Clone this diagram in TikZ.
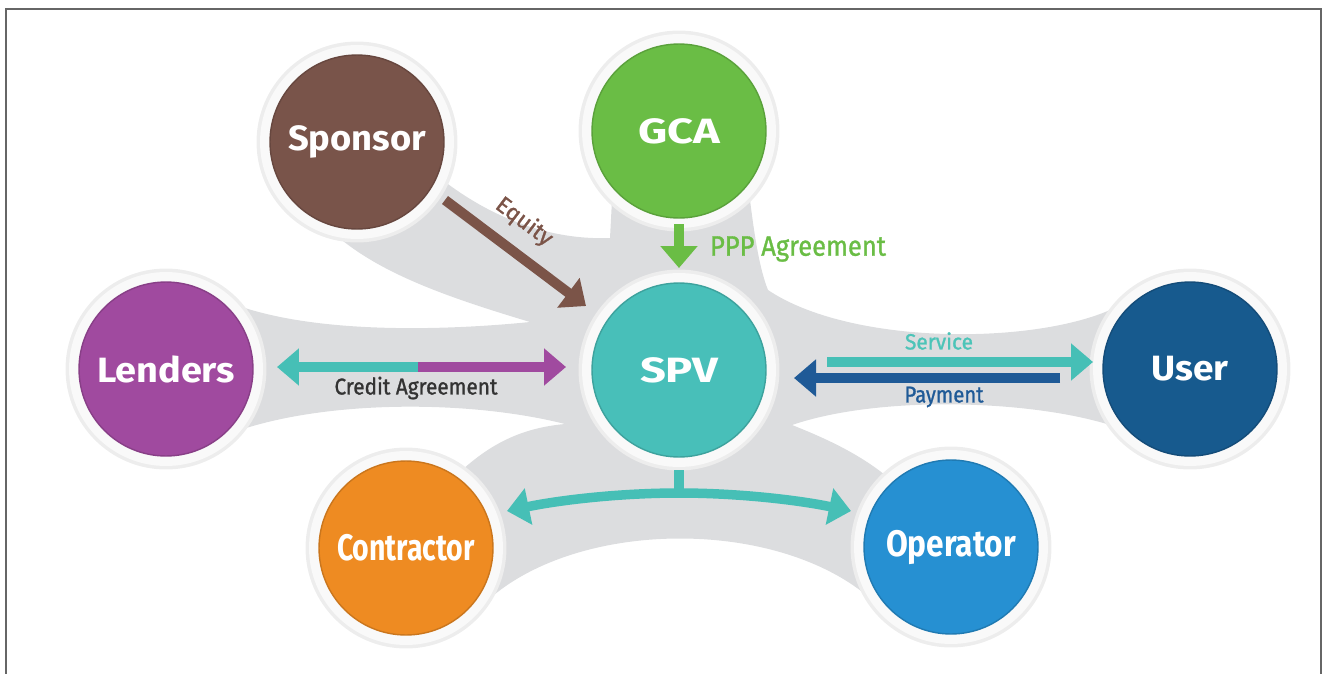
\documentclass[tikz,border=0pt]{standalone}
\usepackage{fontspec}
\setmainfont{Fira Sans}
\newfontfamily\medfont{Fira Sans}[FakeBold=1.2]
\usetikzlibrary{arrows.meta}
\definecolor{csponsor}{HTML}{79544A}
\definecolor{cgca}{HTML}{6ABD45}
\definecolor{clenders}{HTML}{A04A9F}
\definecolor{cspv}{HTML}{48BFB9}
\definecolor{cuser}{HTML}{175A8E}
\definecolor{ccontr}{HTML}{EE8B22}
\definecolor{coper}{HTML}{2690D2}
\definecolor{cblob}{HTML}{DCDDDF}
\definecolor{cteal}{HTML}{46BFB6}
\definecolor{cteallight}{HTML}{4CC4B8}
\definecolor{cbrown}{HTML}{7B5448}
\definecolor{cnavy}{HTML}{1F5A97}
\definecolor{cdark}{HTML}{333333}
\definecolor{chalo}{HTML}{EDEDED}
\definecolor{cring}{HTML}{F9F9F9}
\definecolor{cframe}{HTML}{666666}
\newcommand\fitw[2]{\resizebox{#1}{\height}{#2}}
\begin{document}
\begin{tikzpicture}[x=0.02cm,y=-0.02cm,
  ent/.style={circle, minimum size=3.48cm, inner sep=0pt, text=white,
    font=\fontsize{20}{24}\selectfont\bfseries, line width=0.8pt},
  fatarrow/.style={line width=0.2cm, -{Triangle[width=0.72cm,length=0.44cm]}},
  fatline/.style={line width=0.2cm},
  lbl/.style={inner sep=0pt, font=\medfont\fontsize{13}{15}\selectfont}
]
\useasboundingbox (0,0) rectangle (1325,673);
% frame
\draw[cframe, line width=0.04cm] (6,690) -- (6,9) -- (1321,9) -- (1321,690);
% centres
\coordinate (cS) at (357,142);
\coordinate (cG) at (679,131);
\coordinate (cL) at (166,369);
\coordinate (cP) at (679,370);
\coordinate (cU) at (1190,369);
\coordinate (cC) at (406,548);
\coordinate (cO) at (951,547);
% grey connecting blob
\fill[cblob] (cS) -- (440,178)
  .. controls (500,225) and (560,240) .. (610,238)
  -- (612,200) -- (cG) -- (750,200)
  .. controls (755,240) and (760,270) .. (768,290)
  .. controls (850,345) and (1030,345) .. (1110,310)
  -- (cU) -- (1110,425)
  .. controls (1030,400) and (880,395) .. (792,425)
  .. controls (830,440) and (860,455) .. (885,475)
  -- (cO) -- (872,600)
  .. controls (780,518) and (580,518) .. (488,600)
  -- (cC) -- (462,470)
  .. controls (490,445) and (520,428) .. (565,424)
  .. controls (470,400) and (330,400) .. (240,430)
  -- (cL) -- (236,305)
  .. controls (320,335) and (450,330) .. (530,322)
  .. controls (440,295) and (370,270) .. (325,225)
  -- cycle;
% rings
\foreach \c in {cS,cG,cL,cP,cU,cC,cO}{
  \fill[chalo] (\c) circle[radius=2.01cm];
  \fill[cring] (\c) circle[radius=1.94cm];
}
% entity circles
\node[ent, fill=csponsor, draw=csponsor!85!black] (sponsor) at (cS) {\fitw{2.76cm}{Sponsor}};
\node[ent, fill=cgca, draw=cgca!85!black] (gca) at (cG) {\fitw{1.64cm}{GCA}};
\node[ent, fill=clenders, draw=clenders!85!black] (lenders) at (cL) {\fitw{2.76cm}{Lenders}};
\node[ent, fill=cspv, draw=cspv!85!black] (spv) at (cP) {\fitw{1.56cm}{SPV}};
\node[ent, fill=cuser, draw=cuser!85!black] (user) at (cU) {\fitw{1.54cm}{User}};
\node[ent, fill=ccontr, draw=ccontr!85!black, font=\fontsize{21}{24}\selectfont\bfseries] (contractor) at (cC) {\fitw{2.76cm}{Contractor}};
\node[ent, fill=coper, draw=coper!85!black, font=\fontsize{21}{24}\selectfont\bfseries] (operator) at (cO) {\fitw{2.6cm}{Operator}};
% arrow end points
\coordinate (eqA) at (445,200);
\coordinate (eqB) at (586,306);
\coordinate (pppA) at (679,224);
\coordinate (pppB) at (679,268);
\coordinate (crL) at (277,367);
\coordinate (crM) at (418,367);
\coordinate (crR) at (566,367);
\coordinate (svA) at (827,362);
\coordinate (svB) at (1093,362);
\coordinate (pyA) at (1060,378);
\coordinate (pyB) at (794,378);
\coordinate (bTop) at (679,470);
\coordinate (bJ) at (679,493);
\coordinate (bL) at (507,511);
\coordinate (bR) at (851,511);
% arrows
\draw[fatarrow, cbrown] (eqA) -- (eqB);
\draw[fatarrow, cgca] (pppA) -- (pppB);
\draw[fatarrow, cteal] (crM) -- (crL);
\draw[fatarrow, clenders] (crM) -- (crR);
\draw[fatarrow, cteal, line width=0.19cm] (svA) -- (svB);
\draw[fatarrow, cnavy, line width=0.19cm] (pyA) -- (pyB);
\draw[fatline, cteal, line width=0.19cm] (bTop) -- (bJ);
\draw[fatarrow, cteal, line width=0.19cm] (bJ) .. controls (620,493) and (560,500) .. (bL);
\draw[fatarrow, cteal, line width=0.19cm] (bJ) .. controls (738,493) and (798,500) .. (bR);
% labels
\node[lbl, text=cbrown, rotate=-37, font=\medfont\fontsize{13}{15}\selectfont] (eqlab) at (524,222) {\fitw{1.3cm}{Equity}};
\node[lbl, text=cgca, font=\medfont\fontsize{16}{18}\selectfont] (ppplab) at (798,249) {\fitw{3.52cm}{PPP Agreement}};
\node[lbl, text=cdark] (crlab) at (416,388) {\fitw{3.26cm}{Credit Agreement}};
\node[lbl, text=cteallight, font=\medfont\fontsize{12.5}{14}\selectfont] (svlab) at (939,341) {\fitw{1.36cm}{Service}};
\node[lbl, text=cnavy, font=\medfont\fontsize{13}{15}\selectfont] (pylab) at (944,397) {\fitw{1.58cm}{Payment}};
\end{tikzpicture}
\end{document}
